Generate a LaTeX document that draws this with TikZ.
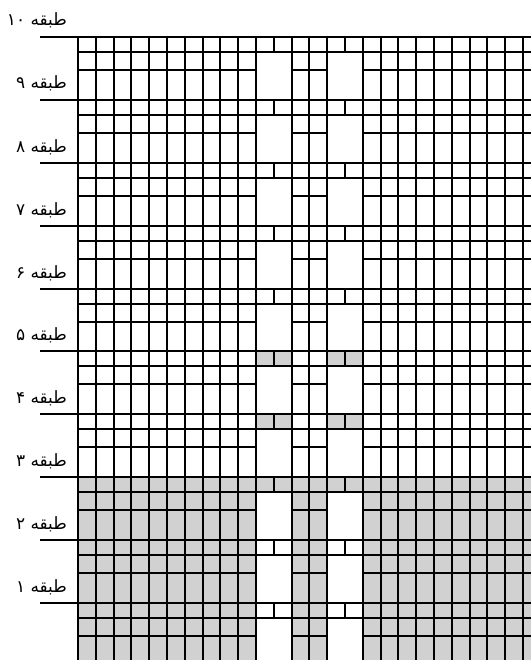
\documentclass[tikz,border=0pt]{standalone}
\usepackage{fontspec}
\newfontfamily\arabicfont[Script=Arabic]{DejaVu Sans}
\TeXXeTstate=1

\begin{document}
\begin{tikzpicture}[
    x=1bp, y=-1bp,
    gridline/.style={line width=2bp, draw=black},
    floorline/.style={line width=2bp, draw=black},
    shade/.style={fill=black!18},
    floorlabel/.style={anchor=base east, inner sep=0pt, font=\arabicfont\fontsize{17}{20}\selectfont}
]
    \useasboundingbox (0,0) rectangle (531,660);
    \begin{scope}
        \clip (0,0) rectangle (531,660);

        % shaded lower floors, bays left open
        \fill [shade] (78,477) rectangle (531,660);
        \foreach \bx in {256,327} {
            \fill [white] (\bx,492) rectangle ++(36,48);
            \fill [white] (\bx,540) rectangle ++(36,120);
        }
        % shaded bay bands at floors 5 and 4
        \foreach \by in {352,414} {
            \fill [shade] (256,\by) rectangle ++(36,15);
            \fill [shade] (327,\by) rectangle ++(36,15);
        }

        % horizontal lines of each floor
        \foreach \i in {0,...,9} {
            \pgfmathsetmacro\yf{round(37+62.9*\i)}
            \draw [floorline] (40,\yf) -- (531,\yf);
            \draw [gridline] (78,\yf+15) -- (531,\yf+15);
            \draw [gridline] (78,\yf+33) -- (256,\yf+33);
            \draw [gridline] (292,\yf+33) -- (327,\yf+33);
            \draw [gridline] (363,\yf+33) -- (531,\yf+33);
            \draw [gridline] (274,\yf) -- (274,\yf+15);
            \draw [gridline] (345,\yf) -- (345,\yf+15);
        }

        % columns
        \foreach \k in {0,...,10,12,13,14,16,17,...,25} {
            \pgfmathsetmacro\xc{round(78+17.8*\k)}
            \draw [gridline] (\xc,36) -- (\xc,660);
        }
    \end{scope}

    % floor labels
    \foreach \n/\d in {10/۱۰,9/۹,8/۸,7/۷,6/۶,5/۵,4/۴,3/۳,2/۲,1/۱}
        \node [floorlabel] (lbl\n) at (67,{round(37+62.9*(10-\n))-11}) {\beginR طبقه \beginL\d\endL\endR};
\end{tikzpicture}
\end{document}
